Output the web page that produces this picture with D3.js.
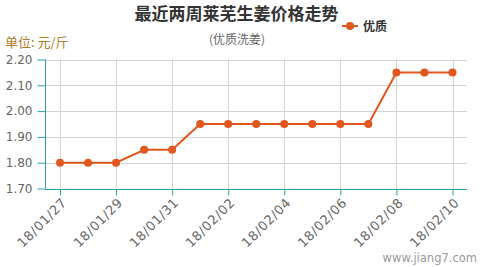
<!DOCTYPE html>
<html>
<head>
<meta charset="utf-8">
<script src="https://cdn.jsdelivr.net/npm/d3@7/dist/d3.min.js"></script>
<style>
  html, body { margin: 0; padding: 0; background: #fff; }
  svg { display: block; font-family: "Noto Sans CJK SC", "Noto Sans", sans-serif; }
</style>
</head>
<body>
<svg id="chart" width="482" height="267"></svg>
<script>
// Daily price of premium washed ginger, Laiwu (yuan / jin)
const dates = ["18/01/27","18/01/28","18/01/29","18/01/30","18/01/31","18/02/01","18/02/02",
               "18/02/03","18/02/04","18/02/05","18/02/06","18/02/07","18/02/08","18/02/09","18/02/10"];
const prices = [1.80, 1.80, 1.80, 1.85, 1.85, 1.95, 1.95, 1.95, 1.95, 1.95, 1.95, 1.95, 2.15, 2.15, 2.15];
const tickDates = ["18/01/27","18/01/29","18/01/31","18/02/02","18/02/04","18/02/06","18/02/08","18/02/10"];
const yTicks = [1.70, 1.80, 1.90, 2.00, 2.10, 2.20];
const seriesName = "优质";

const svg = d3.select("#chart");
const axisColor = "#2b9fb3";
const gridColor = "#d4d4d4";
const lineColor = "#e2571e";
const latin = "'DejaVu Sans', sans-serif";

const plot = { left: 45, right: 467, top: 59.5, bottom: 188.5 };

const x = d3.scalePoint().domain(dates).range([60, 452.5]);
const y = d3.scaleLinear().domain([1.70, 2.20]).range([plot.bottom, plot.top]);

// horizontal grid
svg.append("g").selectAll("line").data(yTicks.slice(1)).join("line")
  .attr("x1", plot.left).attr("x2", plot.right)
  .attr("y1", d => Math.round(y(d)) + 0.5).attr("y2", d => Math.round(y(d)) + 0.5)
  .attr("stroke", gridColor).attr("stroke-width", 1);

// vertical grid
svg.append("g").selectAll("line").data(tickDates).join("line")
  .attr("x1", d => Math.round(x(d)) + 0.5).attr("x2", d => Math.round(x(d)) + 0.5)
  .attr("y1", plot.top).attr("y2", plot.bottom)
  .attr("stroke", gridColor).attr("stroke-width", 1);

// y axis
const yAxis = svg.append("g")
  .attr("transform", `translate(${plot.left + 0.5},0)`)
  .call(d3.axisLeft(y).tickValues(yTicks).tickFormat(d3.format(".2f")).tickSize(8).tickPadding(5));
yAxis.select(".domain").attr("stroke", axisColor).attr("d", `M0,${plot.top}V${plot.bottom}`);
yAxis.selectAll(".tick line").attr("stroke", axisColor);
yAxis.selectAll(".tick text").attr("fill", "#666")
  .style("font-family", latin).style("font-size", "12px");

// x axis
const xAxis = svg.append("g")
  .attr("transform", `translate(0,${Math.round(plot.bottom) + 0.5})`)
  .call(d3.axisBottom(x).tickValues(tickDates).tickSize(6));
xAxis.select(".domain").attr("stroke", axisColor).attr("d", `M${plot.left},0H${plot.right}`);
xAxis.selectAll(".tick line").attr("stroke", axisColor);
xAxis.selectAll(".tick text")
  .attr("fill", "#666")
  .style("font-family", latin)
  .style("font-size", "13px")
  .style("letter-spacing", "0.6px")
  .attr("text-anchor", "end")
  .attr("x", 0).attr("y", 0).attr("dy", 0)
  .attr("transform", "translate(7,14) rotate(-45)");

// price line
svg.append("path")
  .datum(prices)
  .attr("fill", "none")
  .attr("stroke", lineColor)
  .attr("stroke-width", 2)
  .attr("d", d3.line().x((d, i) => x(dates[i])).y(d => y(d)));

svg.append("g").selectAll("circle").data(prices).join("circle")
  .attr("cx", (d, i) => x(dates[i]))
  .attr("cy", d => y(d))
  .attr("r", 4)
  .attr("fill", lineColor);

// titles
svg.append("text").attr("x", 236.5).attr("y", 20).attr("text-anchor", "middle")
  .style("font-size", "17px").style("font-weight", "bold").attr("fill", "#333")
  .text("最近两周莱芜生姜价格走势");
svg.append("text").attr("x", 237).attr("y", 44).attr("text-anchor", "middle")
  .style("font-size", "12px").attr("fill", "#666")
  .text("(优质洗姜)");
svg.append("text").attr("x", 5).attr("y", 47)
  .style("font-size", "13px").attr("fill", "#b07a2a")
  .text("单位: 元/斤");
svg.append("text").attr("x", 477).attr("y", 262).attr("text-anchor", "end")
  .style("font-family", latin)
  .style("font-size", "11.5px").attr("fill", "#999")
  .text("www.jiang7.com");

// legend
const legend = svg.append("g").attr("transform", "translate(342,26)");
legend.append("line").attr("x1", 0).attr("x2", 16).attr("y1", 0).attr("y2", 0)
  .attr("stroke", lineColor).attr("stroke-width", 2);
legend.append("circle").attr("cx", 8).attr("cy", 0).attr("r", 4).attr("fill", lineColor);
legend.append("text").attr("x", 21).attr("y", 4.5)
  .style("font-size", "12px").style("font-weight", "bold").attr("fill", "#333")
  .text(seriesName);
</script>
</body>
</html>
